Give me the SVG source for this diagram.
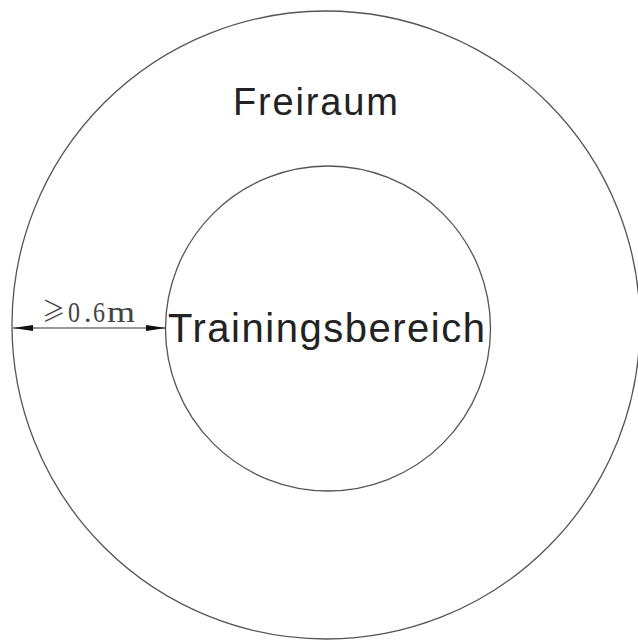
<svg xmlns="http://www.w3.org/2000/svg" width="638" height="641" viewBox="0 0 638 641">
<style>
.c{fill:none;stroke:#555;stroke-width:1.3}
.t{font-family:"Liberation Sans",Arial,sans-serif;fill:#222}
.d{font-family:"Liberation Serif","Times New Roman",serif;fill:#444}
.g{font-family:"Noto Sans CJK SC","Liberation Serif",serif;font-weight:300;fill:#444}
.a{stroke:#333;stroke-width:1.2}
</style>
<defs>
<marker id="ah" viewBox="0 0 20 6" refX="20" refY="3" markerWidth="20" markerHeight="6" markerUnits="userSpaceOnUse" orient="auto-start-reverse">
<path d="M0,0 L20,3 L0,6 Z" fill="#111"/>
</marker>
</defs>
<rect width="638" height="641" fill="#fff"/>
<g id="outer"><circle class="c" cx="326" cy="325" r="314"/>
<text class="t" x="233" y="115" font-size="38" textLength="165" lengthAdjust="spacing">Freiraum</text></g>
<g id="inner"><circle class="c" cx="328" cy="328.5" r="162.5"/>
<text class="t" x="168" y="342" font-size="40" textLength="317" lengthAdjust="spacing">Trainingsbereich</text></g>
<g id="connectors">
<line class="a" x1="13" y1="328" x2="166" y2="328" marker-start="url(#ah)" marker-end="url(#ah)"/>
<text y="322" font-size="30" class="d"><tspan class="g" x="42" font-size="28" textLength="23" lengthAdjust="spacingAndGlyphs">≥</tspan><tspan x="68" textLength="12" lengthAdjust="spacingAndGlyphs">0</tspan><tspan x="84">.</tspan><tspan x="93" textLength="12" lengthAdjust="spacingAndGlyphs">6</tspan><tspan x="107" textLength="28" lengthAdjust="spacingAndGlyphs">m</tspan></text>
</g>
</svg>
